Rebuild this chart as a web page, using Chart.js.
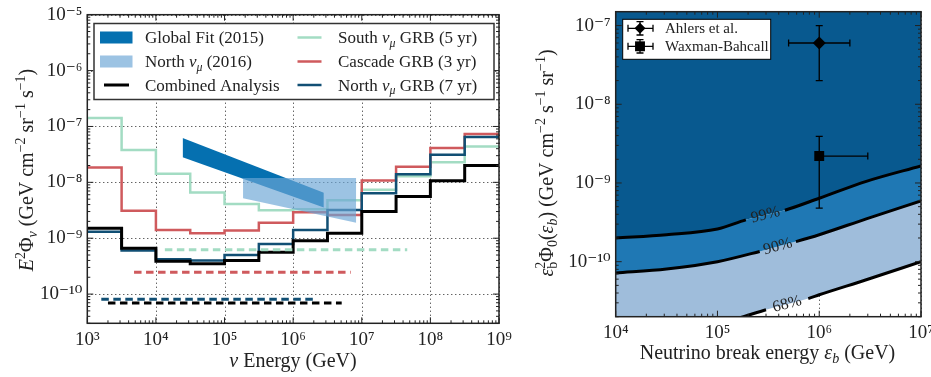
<!DOCTYPE html>
<html>
<head>
<meta charset="utf-8">
<title>GRB neutrino limits</title>
<script src="https://cdn.jsdelivr.net/npm/chart.js@4.4.1/dist/chart.umd.min.js"></script>
<style>
  body { margin: 0; background: #fff; }
  #fluxChart { position: absolute; left: 0; top: 0; }
  #breakChart { position: absolute; left: 520px; top: 0; }
</style>
</head>
<body>
<canvas id="fluxChart" width="520" height="377"></canvas>
<canvas id="breakChart" width="411" height="377"></canvas>
<script>
// ---- left panel: E^2 flux limits in half-decade bins (edges are log10 GeV)
const binEdges = [3, 3.5, 4, 4.5, 5, 5.5, 6, 6.5, 7, 7.5, 8, 8.5, 9];
const southGRB = [1.41e-7, 3.8e-8, 1.42e-8, 6.6e-9, 4.1e-9, 3.15e-9, 3.3e-9, 4.8e-9, 7.4e-9, 1.28e-8, 2.28e-8, 4.4e-8];
const cascadeGRB = [1.85e-8, 3.1e-9, 1.4e-9, 1.23e-9, 1.38e-9, 1.9e-9, 2.9e-9, 2.6e-9, 1.08e-8, 1.9e-8, 4.1e-8, 7.3e-8];
const northGRB = [1.3e-9, 6.0e-10, 4.2e-10, 4.0e-10, 5.0e-10, 7.9e-10, 1.4e-9, 3.2e-9, 6.4e-9, 1.4e-8, 3.1e-8, 6.45e-8];
const combinedGRB = [1.5e-9, 6.6e-10, 3.85e-10, 3.5e-10, 4.0e-10, 5.6e-10, 9.0e-10, 1.23e-9, 3.0e-9, 5.6e-9, 1.07e-8, 2.0e-8];

// E^-2 spectrum limits (flat dashed lines): south, cascade, north, combined
const flatEmin = [1.35e4, 4.8e3, 1.6e3, 2.0e3];
const flatEmax = [4.6e7, 6.9e6, 2.0e6, 5.1e6];
const flatFlux = [6.2e-10, 2.45e-10, 8.1e-11, 6.9e-11];

// diffuse flux measurements (bands)
const globalFitE = [2.45e4, 2.8e6];
const globalFitHi = [6.2e-8, 6.5e-9];
const globalFitLo = [2.8e-8, 3.55e-9];
const northDiffE = [1.86e5, 8.3e6];
const northDiffHi = [1.2e-8, 1.2e-8];
const northDiffLo = [5.2e-9, 1.9e-9];

// ---- right panel: exclusion contours vs. break energy
const cl99E = [1e4, 3.16e4, 1e5, 1.9e5, 4.6e5, 1e6, 2.9e6, 1e7];
const cl99 = [2.0e-10, 2.2e-10, 2.6e-10, 3.4e-10, 4.5e-10, 6.4e-10, 1.05e-9, 1.65e-9];
const cl90E = [1e4, 3.16e4, 1e5, 2.6e5, 5.9e5, 1e6, 2.9e6, 1e7];
const cl90 = [7.2e-11, 8.1e-11, 1.0e-10, 1.35e-10, 1.8e-10, 2.2e-10, 3.5e-10, 5.9e-10];
const cl68E = [1e4, 1e5, 1.8e5, 3.0e5, 7.8e5, 1e6, 2.9e6, 1e7];
const cl68 = [7e-12, 1.6e-11, 2.0e-11, 2.45e-11, 3.4e-11, 3.8e-11, 5.9e-11, 1.0e-10];
const clLabels = ['99%', '90%', '68%'];
const clGap = 3; // segment after this point is left open for the label

const refNames = ['Ahlers et al.', 'Waxman-Bahcall'];
const refE = [1e6, 1e6];
const refFlux = [6e-8, 2.2e-9];
const refELo = [5e5, 1e6];
const refEHi = [2e6, 3e6];
const refFLo = [2e-8, 4.8e-10];
const refFHi = [1e-7, 3.9e-9];

const SERIF = '"Liberation Serif", "DejaVu Serif", serif';
const INK = '#222';
const GLOBAL_COLOR = '#0570b0';
const NORTH_BAND = 'rgba(107, 166, 213, 0.67)';
const SOUTH_COLOR = '#a3dcc3';
const CASCADE_COLOR = '#cf5a5d';
const NORTH_COLOR = '#114f74';
const CL_COLORS = ['#08598f', '#1f78b4', '#9fbddb'];

Chart.defaults.font.family = SERIF;

const SUP = { '-': '⁻', 0: '⁰', 1: '¹', 2: '²', 3: '³', 4: '⁴', 5: '⁵', 6: '⁶', 7: '⁷', 8: '⁸', 9: '⁹' };
const decadeLabel = (v) =>
  '10' + String(Math.round(Math.log10(v))).split('').map((c) => SUP[c]).join('');

function logTicks(min, max) {
  const ticks = [];
  for (let e = Math.floor(Math.log10(min)); e <= Math.ceil(Math.log10(max)); e++) {
    for (let k = 1; k <= 9; k++) {
      const v = k * Math.pow(10, e);
      if (v >= min * 0.999 && v <= max * 1.001) ticks.push({ value: v, major: k === 1 });
    }
  }
  return ticks;
}

function logAxis(min, max, thickness) {
  return {
    type: 'logarithmic',
    min: min,
    max: max,
    grid: { display: false, drawTicks: false },
    border: { display: false },
    afterBuildTicks: (scale) => {
      scale.ticks = logTicks(min, max);
    },
    afterFit: (scale) => {
      if (scale.isHorizontal()) scale.height = thickness;
      else scale.width = thickness;
      scale.paddingLeft = scale.paddingRight = scale.paddingTop = scale.paddingBottom = 0;
    },
    ticks: {
      autoSkip: false,
      maxRotation: 0,
      minRotation: 0,
      padding: 5,
      color: INK,
      font: { family: SERIF, size: 19 },
      callback: (v, i, ticks) => (ticks[i].major ? decadeLabel(v) : ''),
    },
  };
}

// text with italics, sub- and superscripts: parts are [text, kind]
function richText(ctx, parts, x, y, size, align) {
  const items = parts.map(([t, k = '']) => {
    const small = k.includes('^') || k.includes('_') || k === 'st';
    const font = (k.includes('i') ? 'italic ' : '') + (small ? size * 0.7 : size) + 'px ' + SERIF;
    ctx.font = font;
    const texts = k === 'st' ? t : [t];
    const w = Math.max(...texts.map((s) => ctx.measureText(s).width));
    return { t, k, w, font };
  });
  const total = items.reduce((s, it) => s + it.w, 0);
  let cx = align === 'center' ? x - total / 2 : x;
  ctx.textAlign = 'left';
  ctx.textBaseline = 'alphabetic';
  items.forEach((it) => {
    ctx.font = it.font;
    if (it.k === 'st') {
      ctx.fillText(it.t[0], cx, y - size * 0.4);
      ctx.fillText(it.t[1], cx, y + size * 0.22);
    } else {
      const dy = it.k.includes('^') ? -size * 0.4 : it.k.includes('_') ? size * 0.22 : 0;
      ctx.fillText(it.t, cx, y + dy);
    }
    cx += it.w;
  });
}

// dotted grid at decades, drawn over the fills but under the lines
function drawGrid(chart) {
  const { ctx, chartArea: a, scales } = chart;
  ctx.save();
  ctx.strokeStyle = INK;
  ctx.lineWidth = 1;
  ctx.setLineDash([1, 3]);
  ctx.beginPath();
  scales.x.ticks.filter((t) => t.major).forEach((t) => {
    const px = Math.round(scales.x.getPixelForValue(t.value)) + 0.5;
    ctx.moveTo(px, a.top);
    ctx.lineTo(px, a.bottom);
  });
  scales.y.ticks.filter((t) => t.major).forEach((t) => {
    const py = Math.round(scales.y.getPixelForValue(t.value)) + 0.5;
    ctx.moveTo(a.left, py);
    ctx.lineTo(a.right, py);
  });
  ctx.stroke();
  ctx.restore();
}

// box with inward ticks on all four sides
function drawFrame(chart) {
  const { ctx, chartArea: a, scales } = chart;
  ctx.save();
  ctx.strokeStyle = INK;
  ctx.lineWidth = 1;
  ctx.beginPath();
  scales.x.ticks.forEach((t) => {
    const px = scales.x.getPixelForValue(t.value);
    const len = t.major ? 6 : 3;
    ctx.moveTo(px, a.bottom);
    ctx.lineTo(px, a.bottom - len);
    ctx.moveTo(px, a.top);
    ctx.lineTo(px, a.top + len);
  });
  scales.y.ticks.forEach((t) => {
    const py = scales.y.getPixelForValue(t.value);
    const len = t.major ? 6 : 3;
    ctx.moveTo(a.left, py);
    ctx.lineTo(a.left + len, py);
    ctx.moveTo(a.right, py);
    ctx.lineTo(a.right - len, py);
  });
  ctx.stroke();
  ctx.lineWidth = 1.5;
  ctx.strokeRect(a.left, a.top, a.right - a.left, a.bottom - a.top);
  ctx.restore();
}

function drawFluxLegend(ctx) {
  ctx.save();
  ctx.fillStyle = '#fff';
  ctx.fillRect(94, 23.5, 400, 76);
  ctx.strokeStyle = '#333';
  ctx.lineWidth = 1.5;
  ctx.strokeRect(94, 23.5, 400, 76);
  const rows = [37.5, 61.5, 85];
  ctx.fillStyle = GLOBAL_COLOR;
  ctx.fillRect(100, rows[0] - 6, 32.5, 12);
  ctx.fillStyle = NORTH_BAND;
  ctx.fillRect(100, rows[1] - 6, 32.5, 12);
  const swatch = (x0, x1, y, color, w) => {
    ctx.strokeStyle = color;
    ctx.lineWidth = w;
    ctx.beginPath();
    ctx.moveTo(x0, y);
    ctx.lineTo(x1, y);
    ctx.stroke();
  };
  swatch(104, 129, rows[2], '#000', 3);
  swatch(297.5, 321.5, rows[0], SOUTH_COLOR, 2.5);
  swatch(297.5, 321.5, rows[1], CASCADE_COLOR, 2.5);
  swatch(297.5, 321.5, rows[2], NORTH_COLOR, 2.5);
  ctx.fillStyle = INK;
  const numu = [['ν', 'i'], ['μ', '_i']];
  richText(ctx, [['Global Fit (2015)']], 145, rows[0] + 5.5, 17);
  richText(ctx, [['North '], ...numu, [' (2016)']], 145, rows[1] + 5.5, 17);
  richText(ctx, [['Combined Analysis']], 145, rows[2] + 5.5, 17);
  richText(ctx, [['South '], ...numu, [' GRB (5 yr)']], 338, rows[0] + 5.5, 17);
  richText(ctx, [['Cascade GRB (3 yr)']], 338, rows[1] + 5.5, 17);
  richText(ctx, [['North '], ...numu, [' GRB (7 yr)']], 338, rows[2] + 5.5, 17);
  ctx.restore();
}

function drawRefLegend(ctx) {
  ctx.save();
  ctx.fillStyle = '#fff';
  ctx.fillRect(102.7, 19.3, 148, 40);
  ctx.strokeStyle = '#000';
  ctx.lineWidth = 1;
  ctx.strokeRect(102.7, 19.3, 148, 40);
  const rows = [28.3, 46.3];
  const markers = ['rectRot', 'rect'];
  const radii = [5.5, 7];
  rows.forEach((y, i) => {
    const x = 120;
    ctx.strokeStyle = '#000';
    ctx.lineWidth = 1.3;
    ctx.beginPath();
    ctx.moveTo(108, y); ctx.lineTo(133, y);
    ctx.moveTo(108, y - 3.5); ctx.lineTo(108, y + 3.5);
    ctx.moveTo(133, y - 3.5); ctx.lineTo(133, y + 3.5);
    ctx.moveTo(x, y - 6.7); ctx.lineTo(x, y + 6.7);
    ctx.moveTo(x - 3.5, y - 6.7); ctx.lineTo(x + 3.5, y - 6.7);
    ctx.moveTo(x - 3.5, y + 6.7); ctx.lineTo(x + 3.5, y + 6.7);
    ctx.stroke();
    ctx.fillStyle = '#000';
    Chart.helpers.drawPoint(ctx, { pointStyle: markers[i], radius: radii[i], rotation: 0, borderWidth: 0 }, x, y);
    ctx.fillStyle = INK;
    richText(ctx, [[refNames[i]]], 145, y + 5, 15);
  });
  ctx.restore();
}

// ---------------- left chart
const stepPoints = (vals) =>
  binEdges.map((e, i) => ({ x: Math.pow(10, e), y: vals[Math.min(i, vals.length - 1)] }));
const band = (xs, ys) => xs.map((x, i) => ({ x: x, y: ys[i] }));

const stepStyle = (label, vals, color, width) => ({
  label: label,
  data: stepPoints(vals),
  stepped: 'before',
  borderColor: color,
  borderWidth: width,
  pointRadius: 0,
  fill: false,
});

const flatColors = [SOUTH_COLOR, CASCADE_COLOR, NORTH_COLOR, '#000'];
const flatDatasets = flatFlux.map((f, i) => ({
  data: [{ x: flatEmin[i], y: f }, { x: flatEmax[i], y: f }],
  borderColor: flatColors[i],
  borderWidth: 3,
  borderDash: [7.5, 4.5],
  pointRadius: 0,
  fill: false,
}));

const fluxDatasets = [
  { label: 'North νμ (2016)', data: band(northDiffE, northDiffHi), fill: '+1', backgroundColor: NORTH_BAND, borderColor: 'transparent', borderWidth: 0, pointRadius: 0 },
  { data: band(northDiffE, northDiffLo), fill: false, borderColor: 'transparent', borderWidth: 0, pointRadius: 0 },
  { label: 'Global Fit (2015)', data: band(globalFitE, globalFitHi), fill: '+1', backgroundColor: GLOBAL_COLOR, borderColor: 'transparent', borderWidth: 0, pointRadius: 0 },
  { data: band(globalFitE, globalFitLo), fill: false, borderColor: 'transparent', borderWidth: 0, pointRadius: 0 },
  ...flatDatasets.reverse(),
  stepStyle('Combined Analysis', combinedGRB, '#000', 3),
  stepStyle('North νμ GRB (7 yr)', northGRB, NORTH_COLOR, 2.5),
  stepStyle('Cascade GRB (3 yr)', cascadeGRB, CASCADE_COLOR, 2.5),
  stepStyle('South νμ GRB (5 yr)', southGRB, SOUTH_COLOR, 2.5),
];

const fluxDecor = {
  id: 'fluxDecor',
  beforeDatasetsDraw: (chart) => drawGrid(chart),
  afterDraw: (chart) => {
    const ctx = chart.ctx;
    drawFrame(chart);
    drawFluxLegend(ctx);
    ctx.save();
    ctx.fillStyle = INK;
    richText(ctx, [['ν', 'i'], [' Energy (GeV)']], 293, 367, 20, 'center');
    ctx.translate(33, 170);
    ctx.rotate(-Math.PI / 2);
    richText(ctx, [['E', 'i'], ['2', '^'], ['Φ'], ['ν', '_i'], [' (GeV cm'], ['−2', '^'], [' sr'], ['−1', '^'], [' s'], ['−1', '^'], [')']], 0, 0, 20, 'center');
    ctx.restore();
  },
};

new Chart(document.getElementById('fluxChart'), {
  type: 'line',
  data: { datasets: fluxDatasets },
  options: {
    responsive: false,
    animation: false,
    events: [],
    devicePixelRatio: 1,
    layout: { padding: { left: 0, right: 21, top: 14.7, bottom: 0 } },
    plugins: { legend: { display: false }, tooltip: { enabled: false } },
    scales: {
      x: logAxis(1e3, 1e9, 53.7),
      y: logAxis(3e-11, 1e-5, 87.3),
    },
  },
  plugins: [fluxDecor],
});

// ---------------- right chart
const refMarkers = ['rectRot', 'rect'];
const refRadius = [6.5, 7];
const refDatasets = [];
refNames.forEach((name, i) => {
  refDatasets.push({
    label: name,
    data: [{ x: refE[i], y: refFlux[i] }],
    showLine: false,
    pointStyle: refMarkers[i],
    pointRadius: refRadius[i],
    pointBackgroundColor: '#000',
    pointBorderWidth: 0,
  });
  refDatasets.push({
    data: [{ x: refELo[i], y: refFlux[i] }, { x: refEHi[i], y: refFlux[i] }],
    borderColor: '#000',
    borderWidth: 1.3,
    pointStyle: 'line',
    pointRotation: 90,
    pointRadius: 3.5,
    pointBorderWidth: 1.3,
    pointBorderColor: '#000',
    fill: false,
  });
  refDatasets.push({
    data: [{ x: refE[i], y: refFLo[i] }, { x: refE[i], y: refFHi[i] }],
    borderColor: '#000',
    borderWidth: 1.3,
    pointStyle: 'line',
    pointRotation: 0,
    pointRadius: 3.5,
    pointBorderWidth: 1.3,
    pointBorderColor: '#000',
    fill: false,
  });
});

const clSets = [[cl99E, cl99], [cl90E, cl90], [cl68E, cl68]];

// contour lines with an open segment where the label goes
const contourLines = clSets.map(([xs, ys], j) => ({
  label: clLabels[j],
  data: band(xs, ys),
  fill: false,
  borderColor: '#000',
  borderWidth: 3,
  cubicInterpolationMode: 'monotone',
  pointRadius: 0,
  clip: 0,
  segment: { borderColor: (c) => (c.p0DataIndex === clGap ? 'transparent' : '#000') },
}));

// filled regions between the contours
const clFills = ['end', '-1', '-1'];
const contourFills = clSets.map(([xs, ys], j) => ({
  data: band(xs, ys),
  fill: clFills[j],
  backgroundColor: CL_COLORS[j],
  borderColor: 'transparent',
  borderWidth: 0,
  cubicInterpolationMode: 'monotone',
  pointRadius: 0,
  clip: 0,
}));

const breakDatasets = [...refDatasets, ...contourLines, ...contourFills];
const firstContour = refDatasets.length;

const breakDecor = {
  id: 'breakDecor',
  beforeDatasetsDraw: (chart) => drawGrid(chart),
  afterDatasetsDraw: (chart) => {
    const ctx = chart.ctx;
    clLabels.forEach((lab, j) => {
      const pts = chart.getDatasetMeta(firstContour + j).data;
      const a = pts[clGap];
      const b = pts[clGap + 1];
      ctx.save();
      ctx.translate((a.x + b.x) / 2, (a.y + b.y) / 2);
      ctx.rotate(Math.atan2(b.y - a.y, b.x - a.x));
      ctx.font = '16px ' + SERIF;
      ctx.fillStyle = INK;
      ctx.textAlign = 'center';
      ctx.textBaseline = 'middle';
      ctx.fillText(lab, 0, 0);
      ctx.restore();
    });
  },
  afterDraw: (chart) => {
    const ctx = chart.ctx;
    drawFrame(chart);
    drawRefLegend(ctx);
    ctx.save();
    ctx.fillStyle = INK;
    richText(ctx, [['Neutrino break energy '], ['ε', 'i'], ['b', '_i'], [' (GeV)']], 247.5, 358.5, 20, 'center');
    ctx.translate(32.5, 163);
    ctx.rotate(-Math.PI / 2);
    richText(ctx, [['ε', 'i'], [['2', 'b'], 'st'], ['Φ'], ['0', '_'], ['('], ['ε', 'i'], ['b', '_i'], [')'], [' (GeV cm'], ['−2', '^'], [' s'], ['−1', '^'], [' sr'], ['−1', '^'], [')']], 0, 0, 20, 'center');
    ctx.restore();
  },
};

new Chart(document.getElementById('breakChart'), {
  type: 'line',
  data: { datasets: breakDatasets },
  options: {
    responsive: false,
    animation: false,
    events: [],
    devicePixelRatio: 1,
    layout: { padding: { left: 0, right: 10, top: 11.7, bottom: 0 } },
    plugins: { legend: { display: false }, tooltip: { enabled: false } },
    scales: {
      x: logAxis(1e4, 1e7, 60.3),
      y: logAxis(2e-11, 1.5e-7, 95.7),
    },
  },
  plugins: [breakDecor],
});
</script>
</body>
</html>
